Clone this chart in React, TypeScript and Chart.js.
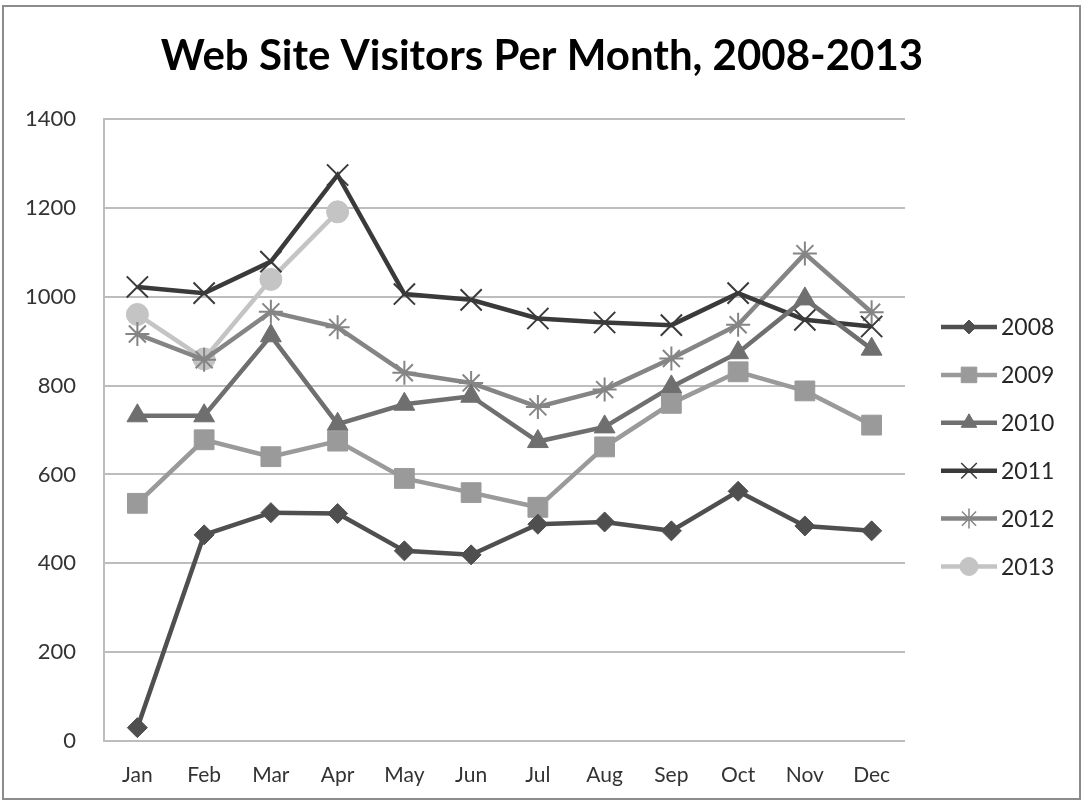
import React, { useEffect, useRef } from "react";
import { Chart, registerables } from "chart.js";
import { drawPoint } from "chart.js/helpers";

Chart.register(...registerables);

const titleText = "Web Site Visitors Per Month, 2008-2013";
const months = ["Jan", "Feb", "Mar", "Apr", "May", "Jun", "Jul", "Aug", "Sep", "Oct", "Nov", "Dec"];
const years = ["2008", "2009", "2010", "2011", "2012", "2013"];

const v2008 = [30, 464, 514, 512, 428, 419, 488, 493, 473, 562, 484, 473];
const v2009 = [535, 678, 640, 675, 591, 559, 526, 662, 760, 831, 788, 711];
const v2010 = [732, 732, 912, 713, 758, 776, 674, 707, 797, 874, 995, 882];
const v2011 = [1022, 1008, 1079, 1274, 1006, 993, 951, 942, 936, 1008, 948, 933];
const v2012 = [916, 858, 966, 931, 829, 806, 752, 791, 861, 937, 1097, 965];
const v2013: (number | null)[] = [960, 860, 1039, 1191, null, null, null, null, null, null, null, null];

const yTicks = [0, 200, 400, 600, 800, 1000, 1200, 1400];

const seriesValues = [v2008, v2009, v2010, v2011, v2012, v2013];
const colors = ["#4f4f4f", "#9a9a9a", "#6f6f6f", "#3a3a3a", "#858585", "#c4c4c4"];
const styles = ["rectRot", "rect", "triangle", "crossRot", "star", "circle"];
const radii = [10, 14, 12, 15, 12, 11];
const legendRadii = [7, 11, 9, 11, 10, 9];

const FONT = "Lato, 'Open Sans', sans-serif";

export default function App() {
  const ref = useRef<HTMLCanvasElement | null>(null);

  useEffect(() => {
    if (!ref.current) return;
    const framePlugin = {
      id: "frame",
      beforeDraw(chart: any) {
        const ctx = chart.ctx;
        ctx.save();
        ctx.fillStyle = "#ffffff";
        ctx.fillRect(0, 0, chart.width, chart.height);
        ctx.strokeStyle = "#8c8c8c";
        ctx.lineWidth = 2;
        ctx.strokeRect(3, 6, 1077, 793);
        ctx.fillStyle = "#000000";
        ctx.font = `bold 42px ${FONT}`;
        ctx.textAlign = "center";
        ctx.textBaseline = "middle";
        ctx.fillText(titleText, 542, 56);
        ctx.restore();
      },
    };
    const legendPlugin = {
      id: "lineLegend",
      afterDraw(chart: any) {
        const ctx = chart.ctx;
        ctx.save();
        chart.data.datasets.forEach((ds: any, i: number) => {
          const y = 327 + i * 47.9;
          ctx.strokeStyle = ds.borderColor;
          ctx.lineWidth = 4.5;
          ctx.beginPath();
          ctx.moveTo(941, y);
          ctx.lineTo(997, y);
          ctx.stroke();
          ctx.fillStyle = ds.pointBackgroundColor;
          ctx.strokeStyle = ds.pointBorderColor;
          ctx.lineWidth = ds.pointStyle === "crossRot" || ds.pointStyle === "star" ? 1.5 : 1;
          drawPoint(ctx, { pointStyle: ds.pointStyle, rotation: 0, radius: legendRadii[i], borderWidth: 1 }, 969, y);
          ctx.fillStyle = "#262626";
          ctx.font = `23px ${FONT}`;
          ctx.textAlign = "left";
          ctx.textBaseline = "middle";
          ctx.fillText(ds.label, 1001, y + 1);
        });
        ctx.restore();
      },
    };

    const chart = new Chart(ref.current, {
      type: "line",
      data: {
        labels: months,
        datasets: years.map((y, i) => ({
          label: y,
          data: seriesValues[i],
          borderColor: colors[i],
          backgroundColor: colors[i],
          pointBackgroundColor: colors[i],
          pointBorderColor: colors[i],
          borderWidth: 4.5,
          pointStyle: styles[i] as any,
          pointRadius: radii[i],
          pointBorderWidth: styles[i] === "crossRot" || styles[i] === "star" ? 2 : 1,
          tension: 0,
          spanGaps: false,
        })),
      },
      options: {
        animation: false,
        responsive: true,
        maintainAspectRatio: false,
        layout: { padding: { left: 0, right: 179, top: 119, bottom: 15 } },
        plugins: {
          legend: { display: false },
          tooltip: { enabled: false },
          title: { display: false },
        },
        scales: {
          x: {
            offset: true,
            grid: { display: false, drawTicks: false },
            border: { display: false },
            ticks: { color: "#333333", font: { family: FONT, size: 21 }, padding: 22, maxRotation: 0 },
            afterFit(scale: any) {
              scale.height = 50;
            },
          },
          y: {
            min: 0,
            max: 1400,
            afterBuildTicks(scale: any) {
              scale.ticks = yTicks.map((v) => ({ value: v }));
            },
            grid: { color: "#bdbdbd", lineWidth: 2, drawTicks: false },
            border: { display: true, color: "#bdbdbd", width: 2 },
            ticks: {
              color: "#333333",
              font: { family: FONT, size: 22 },
              padding: 28,
              callback: (v: any) => String(v),
            },
            afterFit(scale: any) {
              scale.width = 104;
            },
          },
        },
      },
      plugins: [framePlugin, legendPlugin],
    });
    return () => chart.destroy();
  }, []);

  return (
    <div style={{ position: "absolute", left: 0, top: 0, width: 1084, height: 806 }}>
      <canvas ref={ref} />
    </div>
  );
}
